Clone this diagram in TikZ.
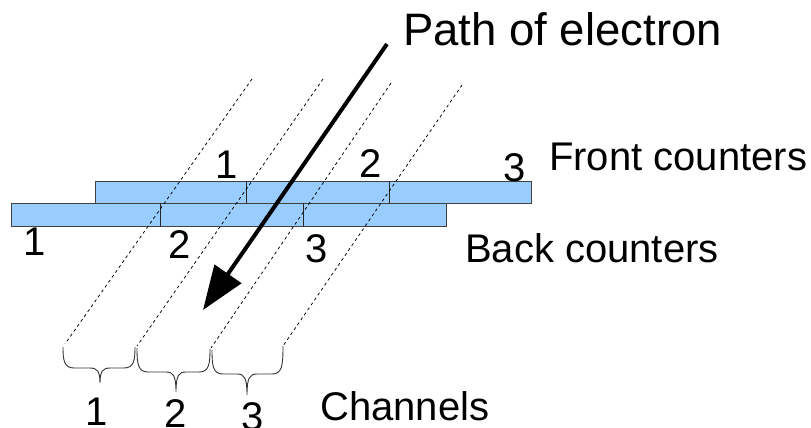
\documentclass[tikz,border=0pt]{standalone}
\usepackage{fontspec}
\setmainfont{Liberation Sans}
\usetikzlibrary{arrows.meta}
\definecolor{counterblue}{HTML}{99CCFF}
\newcommand\chanbrace[7]{%
  \draw[bracepath] (#1,#2) .. controls (#1,#5-8) and (#1+1,#5) .. (#1+11,#5)
    -- (#6-10,#5) .. controls (#6-3,#5) and (#6,#5+3) .. (#6,#7)
    .. controls (#6,#5+3) and (#6+3,#5) .. (#6+10,#5)
    -- (#3-11,#5) .. controls (#3-1,#5) and (#3,#5-8) .. (#3,#4);}
\begin{document}
\begin{tikzpicture}[x=1pt,y=-1pt,
  counter/.style={fill=counterblue,draw=black!75,line width=0.9pt},
  divider/.style={draw=black!85,line width=0.9pt},
  channel/.style={dash pattern=on 3pt off 3pt,line width=0.75pt},
  bracepath/.style={line width=0.9pt,draw=black!80},
  electron/.style={line width=4pt,-{Triangle[length=44pt,width=32pt]}},
  lbl/.style={inner sep=0pt,anchor=base,font=\fontsize{40}{40}\selectfont},
  caption/.style={inner sep=0pt,anchor=base west,font=\fontsize{40}{40}\selectfont},
  bigcaption/.style={inner sep=0pt,anchor=base west,font=\fontsize{45.5}{45.5}\selectfont}]
\useasboundingbox (0,0) rectangle (811,428);

% counters
\draw[counter] (11,203) rectangle (446,226);
\draw[counter] (95,181) rectangle (531,203);
\draw[divider] (160,203) -- (160,226);
\draw[divider] (303,203) -- (303,226);
\draw[divider] (246,181) -- (246,203);
\draw[divider] (389,181) -- (389,203);

% channel boundaries
\coordinate (a1) at (252,79);  \coordinate (b1) at (65,344);
\coordinate (a2) at (323,79);  \coordinate (b2) at (137,346);
\coordinate (a3) at (391,83);  \coordinate (b3) at (211,348);
\coordinate (a4) at (462,85);  \coordinate (b4) at (283,346);
\draw[channel] (a1) -- (b1);
\draw[channel] (a2) -- (b2);
\draw[channel] (a3) -- (b3);
\draw[channel] (a4) -- (b4);

% braces
\chanbrace{63}{347}{135}{347}{368}{100}{383}
\chanbrace{137}{348}{210}{349}{372}{176}{392}
\chanbrace{212}{350}{283}{346}{374}{247}{395}

% electron path
\coordinate (estart) at (387,44);
\coordinate (eend) at (203,310);
\draw[electron] (estart) -- (eend);

% labels
\node[bigcaption] (title) at (403,46) {Path of electron};
\node[caption] (front) at (549,170) {Front counters};
\node[caption] (back) at (465,262) {Back counters};
\node[caption] (chan) at (320,420) {Channels};

\node[lbl] (f1) at (227,178) {1};
\node[lbl] (f2) at (371,177) {2};
\node[lbl] (f3) at (515,181) {3};
\node[lbl] (k1) at (35,255) {1};
\node[lbl] (k2) at (180,258) {2};
\node[lbl] (k3) at (317,262) {3};
\node[lbl] (c1) at (97,425) {1};
\node[lbl] (c2) at (176,427) {2};
\node[lbl] (c3) at (253,430) {3};
\end{tikzpicture}
\end{document}
